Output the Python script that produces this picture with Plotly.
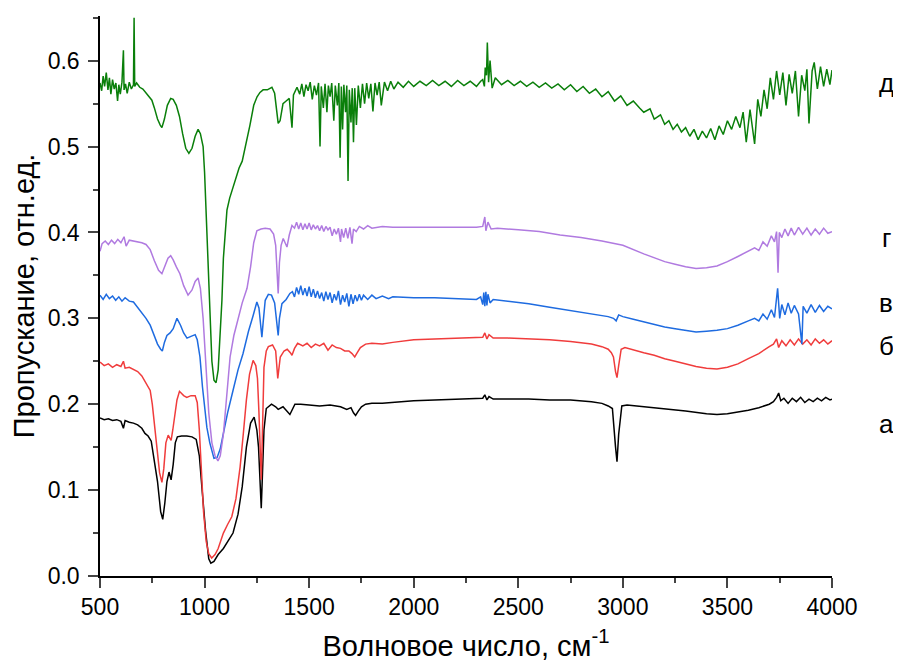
import plotly.graph_objects as go

# ---------------- data ----------------
# curve "а" (black)
a_x = [500, 520, 540, 560, 580, 600, 612, 620, 640, 660, 680, 700, 715, 730, 745, 760, 775, 790, 800, 810,
       820, 830, 840, 850, 860, 870, 890, 915, 940, 960, 975, 990, 1005, 1020, 1030, 1045, 1065, 1090, 1110,
       1136, 1160, 1180, 1200, 1220, 1237, 1250, 1258, 1265, 1271, 1277, 1284, 1295, 1320, 1340, 1352, 1375,
       1395, 1408, 1432, 1460, 1500, 1550, 1600, 1650, 1680, 1700, 1712, 1722, 1735, 1750, 1770, 1800, 1850,
       1900, 2000, 2100, 2200, 2300, 2330, 2340, 2350, 2360, 2380, 2450, 2550, 2650, 2750, 2850, 2900, 2930,
       2950, 2965, 2972, 2980, 2995, 3020, 3100, 3200, 3300, 3400, 3450, 3500, 3550, 3600, 3650, 3700, 3720,
       3735, 3745, 3755, 3770, 3790, 3810, 3830, 3850, 3870, 3890, 3910, 3930, 3950, 3970, 3990, 4000]
a_y = [0.184, 0.182, 0.183, 0.181, 0.182, 0.180, 0.172, 0.181, 0.179, 0.178, 0.176, 0.172, 0.166, 0.163,
       0.157, 0.135, 0.110, 0.075, 0.066, 0.085, 0.110, 0.121, 0.112, 0.130, 0.155, 0.162, 0.163, 0.163,
       0.162, 0.159, 0.140, 0.095, 0.052, 0.020, 0.015, 0.017, 0.025, 0.032, 0.040, 0.050, 0.072, 0.104,
       0.150, 0.178, 0.185, 0.170, 0.150, 0.110, 0.079, 0.120, 0.170, 0.195, 0.200, 0.197, 0.194, 0.197,
       0.192, 0.188, 0.200, 0.200, 0.199, 0.198, 0.199, 0.197, 0.194, 0.196, 0.190, 0.187, 0.192, 0.197,
       0.200, 0.201, 0.201, 0.202, 0.204, 0.205, 0.206, 0.207, 0.207, 0.211, 0.205, 0.209, 0.206, 0.206,
       0.206, 0.205, 0.205, 0.203, 0.201, 0.198, 0.195, 0.150, 0.133, 0.165, 0.198, 0.199, 0.197, 0.195,
       0.192, 0.189, 0.188, 0.189, 0.191, 0.193, 0.196, 0.200, 0.203, 0.208, 0.213, 0.204, 0.207, 0.201,
       0.207, 0.203, 0.208, 0.202, 0.206, 0.203, 0.207, 0.204, 0.208, 0.205, 0.206]

# curve "б" (red)
b_x = [500, 520, 540, 560, 580, 600, 612, 620, 640, 660, 680, 700, 715, 730, 740, 750, 760, 772, 785, 796,
       805, 815, 826, 835, 840, 848, 856, 868, 880, 900, 915, 935, 955, 965, 975, 985, 995, 1008, 1020, 1034,
       1050, 1065, 1090, 1110, 1130, 1150, 1170, 1185, 1200, 1215, 1232, 1245, 1253, 1260, 1266, 1271, 1276,
       1284, 1295, 1305, 1325, 1340, 1350, 1355, 1362, 1380, 1395, 1410, 1418, 1430, 1445, 1470, 1490, 1510,
       1530, 1550, 1570, 1590, 1610, 1630, 1650, 1670, 1690, 1705, 1718, 1730, 1745, 1770, 1800, 1850, 1900,
       2000, 2100, 2200, 2300, 2330, 2340, 2350, 2360, 2380, 2450, 2550, 2650, 2750, 2850, 2900, 2930, 2945,
       2955, 2965, 2972, 2980, 2992, 3010, 3050, 3100, 3150, 3200, 3250, 3300, 3350, 3400, 3450, 3500, 3550,
       3600, 3650, 3700, 3720, 3735, 3745, 3760, 3780, 3800, 3820, 3840, 3860, 3880, 3900, 3920, 3940, 3960,
       3980, 4000]
b_y = [0.249, 0.245, 0.247, 0.243, 0.246, 0.244, 0.250, 0.242, 0.243, 0.240, 0.238, 0.233, 0.227, 0.220,
       0.216, 0.200, 0.175, 0.150, 0.120, 0.109, 0.125, 0.155, 0.164, 0.160, 0.158, 0.170, 0.185, 0.205,
       0.215, 0.210, 0.208, 0.210, 0.210, 0.202, 0.170, 0.120, 0.075, 0.040, 0.026, 0.021, 0.025, 0.032,
       0.050, 0.060, 0.069, 0.090, 0.127, 0.165, 0.205, 0.235, 0.251, 0.245, 0.230, 0.190, 0.130, 0.112,
       0.160, 0.243, 0.262, 0.267, 0.269, 0.262, 0.230, 0.240, 0.255, 0.262, 0.264, 0.260, 0.257, 0.265,
       0.271, 0.268, 0.271, 0.266, 0.270, 0.268, 0.271, 0.263, 0.269, 0.266, 0.265, 0.262, 0.262, 0.259,
       0.255, 0.260, 0.266, 0.270, 0.271, 0.270, 0.272, 0.275, 0.276, 0.277, 0.278, 0.278, 0.283, 0.276,
       0.281, 0.277, 0.277, 0.276, 0.275, 0.273, 0.270, 0.267, 0.264, 0.260, 0.255, 0.238, 0.231, 0.245,
       0.264, 0.266, 0.263, 0.260, 0.257, 0.253, 0.250, 0.247, 0.244, 0.242, 0.241, 0.243, 0.247, 0.253,
       0.259, 0.267, 0.270, 0.276, 0.266, 0.274, 0.268, 0.275, 0.269, 0.276, 0.270, 0.275, 0.269, 0.276,
       0.271, 0.275, 0.270, 0.274]

# curve "в" (blue)
v_x = [500, 515, 530, 545, 560, 575, 590, 605, 620, 640, 660, 680, 700, 720, 740, 760, 775, 790, 798, 808,
       820, 835, 850, 868, 885, 900, 916, 935, 955, 965, 978, 990, 1000, 1011, 1025, 1045, 1060, 1075, 1090,
       1110, 1136, 1160, 1184, 1210, 1232, 1250, 1260, 1268, 1274, 1280, 1290, 1305, 1320, 1335, 1345, 1352,
       1358, 1370, 1390, 1408, 1420, 1430, 1440, 1450, 1460, 1470, 1480, 1490, 1500, 1510, 1520, 1530, 1540,
       1550, 1560, 1570, 1580, 1590, 1600, 1610, 1620, 1630, 1640, 1650, 1660, 1670, 1680, 1690, 1700, 1710,
       1720, 1730, 1740, 1750, 1760, 1780, 1800, 1820, 1850, 1880, 1900, 2000, 2100, 2200, 2300, 2320, 2330,
       2335, 2340, 2345, 2350, 2355, 2365, 2380, 2450, 2550, 2650, 2750, 2850, 2930, 2955, 2968, 2980, 3000,
       3050, 3100, 3150, 3200, 3250, 3300, 3350, 3400, 3450, 3500, 3550, 3600, 3630, 3650, 3670, 3690, 3710,
       3725, 3740, 3750, 3760, 3775, 3790, 3805, 3820, 3840, 3856, 3862, 3880, 3900, 3920, 3940, 3960, 3980,
       4000]
v_y = [0.327, 0.322, 0.328, 0.323, 0.326, 0.321, 0.325, 0.320, 0.324, 0.320, 0.319, 0.313, 0.307, 0.300,
       0.292, 0.280, 0.270, 0.264, 0.262, 0.272, 0.280, 0.283, 0.288, 0.300, 0.292, 0.283, 0.277, 0.279,
       0.281, 0.275, 0.255, 0.220, 0.195, 0.173, 0.155, 0.137, 0.138, 0.148, 0.166, 0.190, 0.216, 0.240,
       0.259, 0.285, 0.303, 0.319, 0.312, 0.290, 0.278, 0.295, 0.321, 0.328, 0.327, 0.318, 0.295, 0.280,
       0.300, 0.317, 0.322, 0.329, 0.331, 0.325, 0.336, 0.328, 0.338, 0.327, 0.335, 0.326, 0.337, 0.325,
       0.334, 0.324, 0.332, 0.323, 0.330, 0.320, 0.331, 0.322, 0.330, 0.318, 0.328, 0.321, 0.332, 0.316,
       0.327, 0.319, 0.329, 0.314, 0.328, 0.317, 0.327, 0.320, 0.328, 0.321, 0.327, 0.322, 0.327, 0.323,
       0.326, 0.323, 0.325, 0.324, 0.324, 0.323, 0.322, 0.325, 0.316, 0.330, 0.314, 0.331, 0.315, 0.328,
       0.318, 0.322, 0.320, 0.317, 0.313, 0.309, 0.305, 0.302, 0.300, 0.297, 0.304, 0.302, 0.299, 0.296,
       0.293, 0.290, 0.288, 0.286, 0.284, 0.285, 0.286, 0.288, 0.292, 0.297, 0.300, 0.297, 0.305, 0.299,
       0.310, 0.301, 0.335, 0.300, 0.316, 0.304, 0.318, 0.306, 0.315, 0.305, 0.270, 0.314, 0.306, 0.316,
       0.307, 0.315, 0.308, 0.314, 0.311]

# curve "г" (purple)
g_x = [500, 510, 525, 540, 555, 570, 585, 600, 615, 625, 640, 660, 680, 700, 720, 740, 760, 780, 796, 810,
       825, 838, 850, 865, 882, 900, 921, 940, 955, 969, 980, 993, 1005, 1020, 1035, 1050, 1064, 1075, 1090,
       1105, 1122, 1140, 1160, 1180, 1203, 1220, 1235, 1250, 1270, 1290, 1313, 1330, 1340, 1346, 1352, 1358,
       1366, 1376, 1386, 1394, 1405, 1418, 1430, 1440, 1450, 1460, 1470, 1480, 1490, 1500, 1510, 1520, 1530,
       1540, 1550, 1560, 1570, 1580, 1590, 1600, 1610, 1620, 1630, 1640, 1650, 1655, 1665, 1675, 1685, 1695,
       1705, 1712, 1725, 1740, 1760, 1780, 1800, 1850, 1900, 2000, 2100, 2200, 2300, 2330, 2340, 2345, 2355,
       2370, 2400, 2500, 2600, 2700, 2800, 2900, 3000, 3100, 3200, 3250, 3300, 3350, 3400, 3450, 3500, 3550,
       3600, 3630, 3650, 3670, 3690, 3710, 3725, 3735, 3742, 3748, 3760, 3775, 3790, 3805, 3820, 3840, 3860,
       3880, 3900, 3920, 3940, 3960, 3980, 4000]
g_y = [0.378, 0.387, 0.390, 0.386, 0.391, 0.387, 0.392, 0.388, 0.395, 0.384, 0.391, 0.390, 0.389, 0.388,
       0.386, 0.380, 0.367, 0.356, 0.352, 0.360, 0.370, 0.373, 0.368, 0.360, 0.352, 0.338, 0.327, 0.333,
       0.343, 0.347, 0.335, 0.300, 0.250, 0.190, 0.155, 0.140, 0.134, 0.140, 0.165, 0.210, 0.255, 0.280,
       0.300, 0.318, 0.335, 0.360, 0.388, 0.402, 0.404, 0.405, 0.404, 0.398, 0.385, 0.350, 0.329, 0.365,
       0.385, 0.393, 0.388, 0.383, 0.397, 0.408, 0.405, 0.412, 0.404, 0.411, 0.403, 0.410, 0.404, 0.411,
       0.403, 0.409, 0.404, 0.408, 0.402, 0.408, 0.401, 0.407, 0.403, 0.406, 0.396, 0.404, 0.398, 0.405,
       0.389, 0.404, 0.394, 0.405, 0.393, 0.406, 0.387, 0.404, 0.401, 0.407, 0.404, 0.408, 0.405, 0.407,
       0.406, 0.406, 0.406, 0.406, 0.406, 0.407, 0.418, 0.402, 0.412, 0.404, 0.405, 0.403, 0.401, 0.397,
       0.394, 0.390, 0.385, 0.375, 0.366, 0.363, 0.360, 0.358, 0.359, 0.361, 0.366, 0.372, 0.378, 0.382,
       0.379, 0.389, 0.384, 0.396, 0.389, 0.401, 0.353, 0.400, 0.394, 0.404, 0.396, 0.405, 0.397, 0.406,
       0.398, 0.405, 0.397, 0.404, 0.398, 0.405, 0.399, 0.401]

# curve "д" (green)
d_x = [500, 508, 515, 522, 530, 538, 545, 552, 560, 568, 576, 584, 590, 597, 605, 612, 615, 622, 630, 640,
       650, 660, 663, 666, 675, 690, 705, 720, 735, 748, 760, 775, 788, 796, 808, 822, 838, 850, 865, 880,
       895, 910, 925, 940, 955, 969, 980, 993, 1000, 1008, 1015, 1025, 1035, 1045, 1055, 1065, 1075, 1083,
       1090, 1098, 1107, 1120, 1136, 1150, 1165, 1180, 1200, 1217, 1235, 1251, 1265, 1280, 1300, 1322, 1335,
       1346, 1352, 1361, 1375, 1390, 1405, 1418, 1425, 1442, 1455, 1465, 1475, 1485, 1495, 1505, 1515, 1525,
       1535, 1545, 1552, 1558, 1568, 1576, 1585, 1592, 1600, 1608, 1618, 1625, 1635, 1642, 1648, 1654, 1660,
       1666, 1674, 1680, 1686, 1692, 1700, 1706, 1712, 1718, 1726, 1735, 1745, 1755, 1765, 1775, 1785, 1795,
       1805, 1815, 1825, 1835, 1845, 1860, 1875, 1890, 1905, 1925, 1950, 1975, 2000, 2030, 2060, 2090, 2120,
       2150, 2180, 2210, 2240, 2270, 2300, 2320, 2330, 2338, 2342, 2348, 2352, 2358, 2365, 2375, 2390, 2420,
       2450, 2480, 2510, 2540, 2570, 2600, 2630, 2660, 2690, 2720, 2750, 2780, 2810, 2840, 2870, 2900, 2930,
       2960, 2990, 3020, 3050, 3080, 3100, 3130, 3150, 3180, 3200, 3220, 3240, 3260, 3280, 3300, 3320, 3340,
       3360, 3380, 3400, 3420, 3440, 3460, 3480, 3500, 3520, 3540, 3560, 3575, 3590, 3608, 3630, 3645, 3660,
       3675, 3690, 3705, 3720, 3735, 3750, 3765, 3780, 3795, 3810, 3825, 3840, 3855, 3870, 3880, 3890, 3905,
       3915, 3930, 3945, 3960, 3975, 3990, 4000]
d_y = [0.574, 0.565, 0.582, 0.570, 0.586, 0.566, 0.580, 0.561, 0.578, 0.567, 0.574, 0.553, 0.572, 0.561,
       0.575, 0.612, 0.566, 0.573, 0.562, 0.575, 0.567, 0.572, 0.650, 0.570, 0.574, 0.569, 0.567, 0.562,
       0.558, 0.554, 0.545, 0.532, 0.525, 0.522, 0.532, 0.548, 0.556, 0.555, 0.548, 0.535, 0.515, 0.498,
       0.492, 0.498, 0.512, 0.520, 0.515, 0.500, 0.470, 0.420, 0.360, 0.300, 0.250, 0.228, 0.225, 0.240,
       0.280, 0.321, 0.370, 0.402, 0.426, 0.440, 0.452, 0.465, 0.475, 0.483, 0.505, 0.525, 0.548, 0.558,
       0.563, 0.566, 0.566, 0.569, 0.562, 0.540, 0.527, 0.530, 0.550, 0.553, 0.556, 0.522, 0.560, 0.569,
       0.561, 0.573, 0.558, 0.572, 0.565, 0.575, 0.555, 0.571, 0.560, 0.574, 0.500, 0.570, 0.545, 0.573,
       0.540, 0.571, 0.558, 0.574, 0.530, 0.571, 0.548, 0.574, 0.487, 0.570, 0.520, 0.572, 0.540, 0.571,
       0.460, 0.566, 0.528, 0.568, 0.505, 0.568, 0.525, 0.571, 0.545, 0.573, 0.550, 0.574, 0.556, 0.573,
       0.541, 0.574, 0.560, 0.575, 0.548, 0.575, 0.565, 0.576, 0.567, 0.575, 0.569, 0.576, 0.570, 0.576,
       0.571, 0.577, 0.571, 0.576, 0.570, 0.577, 0.571, 0.576, 0.570, 0.576, 0.578, 0.570, 0.592, 0.583,
       0.621, 0.575, 0.600, 0.568, 0.580, 0.572, 0.577, 0.571, 0.576, 0.570, 0.575, 0.569, 0.574, 0.568,
       0.573, 0.566, 0.572, 0.564, 0.570, 0.562, 0.567, 0.558, 0.564, 0.553, 0.559, 0.548, 0.553, 0.545,
       0.540, 0.544, 0.532, 0.537, 0.526, 0.530, 0.520, 0.526, 0.517, 0.522, 0.512, 0.520, 0.508, 0.518,
       0.510, 0.521, 0.508, 0.524, 0.514, 0.530, 0.520, 0.535, 0.522, 0.540, 0.505, 0.543, 0.503, 0.555,
       0.535, 0.566, 0.544, 0.580, 0.555, 0.588, 0.560, 0.586, 0.548, 0.584, 0.562, 0.588, 0.535, 0.583,
       0.565, 0.590, 0.527, 0.588, 0.598, 0.567, 0.593, 0.570, 0.590, 0.572, 0.589, 0.578]

series_names = ["а", "б", "в", "г", "д"]
series_colors = ["#000000", "#f03c3c", "#1e6be0", "#b07ae0", "#0a7f0a"]
label_y = [0.177, 0.268, 0.318, 0.393, 0.574]

x_ticks = [500, 1000, 1500, 2000, 2500, 3000, 3500, 4000]
y_ticks = [0.0, 0.1, 0.2, 0.3, 0.4, 0.5, 0.6]

# ---------------- figure ----------------
fig = go.Figure()
all_x = [a_x, b_x, v_x, g_x, d_x]
all_y = [a_y, b_y, v_y, g_y, d_y]
for xs, ys, name, col in zip(all_x, all_y, series_names, series_colors):
    fig.add_trace(go.Scatter(x=xs, y=ys, mode="lines", name=name,
                             line=dict(color=col, width=1.5), showlegend=False))

for name, ly in zip(series_names, label_y):
    fig.add_annotation(x=1.074, xref="paper", y=ly, yref="y", text=name, showarrow=False,
                       xanchor="center", yanchor="middle",
                       font=dict(family="Liberation Sans, Arial", size=26, color="black"))

font_family = "Liberation Sans, Arial, sans-serif"
# the page body has an 8 px margin, so the figure is drawn 8 px smaller and offset
fig.update_layout(
    width=893, height=658,
    margin=dict(l=92, r=69, t=8, b=90),
    paper_bgcolor="white", plot_bgcolor="white",
    font=dict(family=font_family, color="black"),
    xaxis=dict(range=[500, 4000], tickvals=x_ticks, ticks="outside", ticklen=10, tickwidth=1.5,
               showline=True, linecolor="black", linewidth=1.5, showgrid=False, zeroline=False,
               tickfont=dict(size=23), automargin=False,
               minor=dict(ticks="outside", ticklen=5, tickwidth=1.5, dtick=250, tick0=500, showgrid=False),
               title=dict(text="Волновое число, см<sup>-1</sup>", font=dict(size=29), standoff=16)),
    yaxis=dict(range=[0, 0.652], tickvals=y_ticks, tickformat=".1f", ticks="outside", ticklen=10,
               tickwidth=1.5, showline=True, linecolor="black", linewidth=1.5, showgrid=False,
               zeroline=False, tickfont=dict(size=23), ticklabelstandoff=4, automargin=False,
               minor=dict(ticks="outside", ticklen=5, tickwidth=1.5, dtick=0.05, tick0=0, showgrid=False),
               title=dict(text="Пропускание, отн.ед.", font=dict(size=29), standoff=6)),
)

fig.write_html("out.html")
